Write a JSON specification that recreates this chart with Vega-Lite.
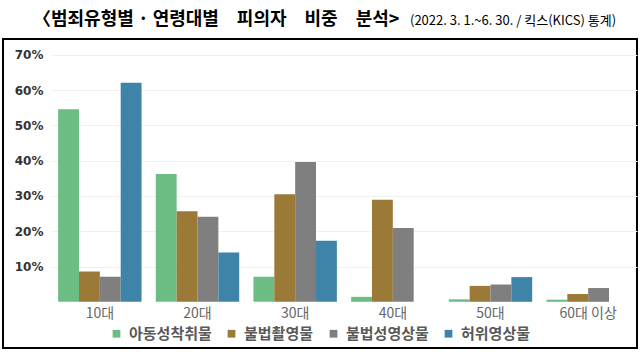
{
  "$schema": "https://vega.github.io/schema/vega-lite/v6.json",
  "width": 634,
  "height": 309,
  "autosize": {"type": "none"},
  "padding": {"left": 3, "top": 39, "right": 5, "bottom": 6},
  "background": "white",
  "title": {
    "text": "〈범죄유형별 · 연령대별\u2003피의자\u2003비중\u2003분석>",
    "subtitle": "\u200b\u2003\u2003\u2003\u2003\u2003\u2003\u2003\u2003\u2003\u2003\u2003\u2003\u2003\u2003\u2003\u2003\u2003\u2003\u2003\u2003\u2003\u2003\u2003\u2003\u2003\u2003\u2003\u2003\u2003(2022. 3. 1.~6. 30. / 킥스(KICS) 통계)",
    "anchor": "start",
    "dx": 30,
    "offset": 10,
    "font": "Noto Sans CJK KR",
    "fontSize": 18,
    "fontWeight": "bold",
    "color": "#000000",
    "subtitleFont": "Noto Sans CJK KR",
    "subtitleFontSize": 13,
    "subtitleColor": "#000000",
    "subtitlePadding": -14
  },
  "data": {
    "values": [
      {"age": "10대", "type": "아동성착취물", "pct": 54.6},
      {"age": "10대", "type": "불법촬영물", "pct": 8.6},
      {"age": "10대", "type": "불법성영상물", "pct": 7.1},
      {"age": "10대", "type": "허위영상물", "pct": 62.1},
      {"age": "20대", "type": "아동성착취물", "pct": 36.2},
      {"age": "20대", "type": "불법촬영물", "pct": 25.7},
      {"age": "20대", "type": "불법성영상물", "pct": 24.1},
      {"age": "20대", "type": "허위영상물", "pct": 14.0},
      {"age": "30대", "type": "아동성착취물", "pct": 7.1},
      {"age": "30대", "type": "불법촬영물", "pct": 30.5},
      {"age": "30대", "type": "불법성영상물", "pct": 39.6},
      {"age": "30대", "type": "허위영상물", "pct": 17.3},
      {"age": "40대", "type": "아동성착취물", "pct": 1.4},
      {"age": "40대", "type": "불법촬영물", "pct": 28.9},
      {"age": "40대", "type": "불법성영상물", "pct": 20.9},
      {"age": "40대", "type": "허위영상물", "pct": 0},
      {"age": "50대", "type": "아동성착취물", "pct": 0.7},
      {"age": "50대", "type": "불법촬영물", "pct": 4.5},
      {"age": "50대", "type": "불법성영상물", "pct": 4.9},
      {"age": "50대", "type": "허위영상물", "pct": 7.0},
      {"age": "60대 이상", "type": "아동성착취물", "pct": 0.6},
      {"age": "60대 이상", "type": "불법촬영물", "pct": 2.2},
      {"age": "60대 이상", "type": "불법성영상물", "pct": 3.9},
      {"age": "60대 이상", "type": "허위영상물", "pct": 0}
    ]
  },
  "mark": {"type": "bar"},
  "encoding": {
    "x": {
      "field": "age",
      "type": "nominal",
      "sort": null,
      "scale": {"range": [48, 634], "paddingInner": 0.146, "paddingOuter": 0.073},
      "axis": {
        "title": null,
        "orient": "bottom",
        "offset": -44,
        "domain": false,
        "ticks": false,
        "grid": false,
        "labelAngle": 0,
        "labelPadding": 2,
        "labelFont": "Noto Sans CJK KR",
        "labelFontSize": 14,
        "labelColor": "#666666"
      }
    },
    "xOffset": {
      "field": "type",
      "type": "nominal",
      "sort": ["아동성착취물", "불법촬영물", "불법성영상물", "허위영상물"],
      "scale": {"paddingInner": 0, "paddingOuter": 0}
    },
    "y": {
      "field": "pct",
      "type": "quantitative",
      "scale": {"domain": [-13.1, 74.5], "nice": false, "zero": false},
      "axis": {
        "title": null,
        "values": [10, 20, 30, 40, 50, 60, 70],
        "labelExpr": "datum.value + '%'",
        "offset": -44,
        "domain": false,
        "ticks": false,
        "labelPadding": 4,
        "labelFont": "DejaVu Sans",
        "labelFontWeight": "bold",
        "labelFontSize": 12,
        "labelColor": "#333333",
        "gridColor": "#f0f0f0",
        "gridWidth": 1
      }
    },
    "y2": {"datum": 0},
    "color": {
      "field": "type",
      "type": "nominal",
      "sort": ["아동성착취물", "불법촬영물", "불법성영상물", "허위영상물"],
      "scale": {
        "domain": ["아동성착취물", "불법촬영물", "불법성영상물", "허위영상물"],
        "range": ["#6bbd83", "#9b7936", "#7f7f7f", "#3d84a8"]
      },
      "legend": {
        "title": null,
        "orient": "bottom",
        "direction": "horizontal",
        "offset": -22,
        "symbolType": "square",
        "symbolSize": 60,
        "symbolStrokeWidth": 0,
        "symbolOffset": 0,
        "labelFont": "Noto Sans CJK KR",
        "labelFontSize": 15,
        "labelFontWeight": "bold",
        "labelColor": "#595959",
        "labelOffset": 5,
        "columnPadding": 12
      }
    }
  },
  "config": {
    "view": {"stroke": "#000000", "strokeWidth": 2},
    "legend": {"layout": {"bottom": {"anchor": "middle"}}}
  }
}
